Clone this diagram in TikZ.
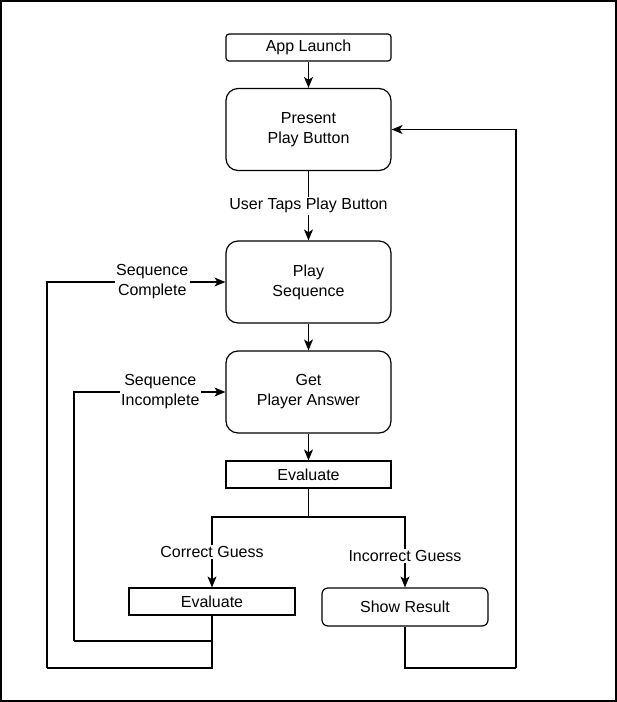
\documentclass[tikz,border=0pt]{standalone}
\usepackage{fontspec}
\setmainfont{Liberation Sans}
\usetikzlibrary{arrows.meta}
\begin{document}
\begin{tikzpicture}[x=1pt,y=-1pt,
  box/.style={draw,line width=1.2pt,minimum width=165pt,align=center,inner sep=0pt,font=\fontsize{16}{20}\selectfont},
  tallbox/.style={box,rounded corners=12pt,minimum height=82pt},
  flat/.style={box,minimum height=27pt},
  conn/.style={line width=1.2pt},
  arr/.style={conn,-{Stealth[length=11pt,width=9pt,inset=3pt]}},
  lbl/.style={fill=white,inner sep=1.5pt,align=center,font=\fontsize{16}{20}\selectfont}]
\useasboundingbox (0,0) rectangle (617,702);
\draw[line width=2pt] (1,1) rectangle (616,701);

\node[flat,rounded corners=3pt] (app) at (308.5,47.5) {App Launch};
\node[tallbox] (present) at (308.5,129.5) {Present\\Play Button};
\node[tallbox] (play) at (308.5,282) {Play\\Sequence};
\node[tallbox] (get) at (308.5,392) {Get\\Player Answer};
\node[flat] (eval1) at (308.5,474.5) {Evaluate};
\node[flat,minimum width=166pt] (eval2) at (212,601.5) {Evaluate};
\node[box,rounded corners=6pt,minimum width=166pt,minimum height=38pt] (show) at (405,607) {Show Result};

\coordinate (split) at (308.5,517);
\coordinate (c1) at (212,641);
\coordinate (c2) at (74,641);
\coordinate (c3) at (212,668);
\coordinate (c4) at (47,668);
\coordinate (c5) at (405,668);
\coordinate (c6) at (516,668);

\draw[arr] (app) -- (present);
\draw[arr] (present) -- node[lbl,pos=0.5] {User Taps Play Button} (play);
\draw[arr] (play) -- (get);
\draw[arr] (get) -- (eval1);
\draw[conn] (eval1) -- (split);
\draw[arr] (split) -| node[lbl,pos=0.75] {Correct Guess} (eval2.north);
\draw[arr] (split) -| node[lbl,pos=0.775] {Incorrect Guess} (show.north);
\draw[conn] (eval2.south) -- (c1) -- (c2);
\draw[arr] (c2) |- node[lbl,pos=0.785] {Sequence\\Incomplete} (get.west);
\draw[conn] (eval2.south) -- (c3) -- (c4);
\draw[arr] (c4) |- node[lbl,pos=0.795] {Sequence\\Complete} (play.west);
\draw[conn] (show.south) -- (c5) -- (c6);
\draw[arr] (c6) |- (present.east);
\end{tikzpicture}
\end{document}
